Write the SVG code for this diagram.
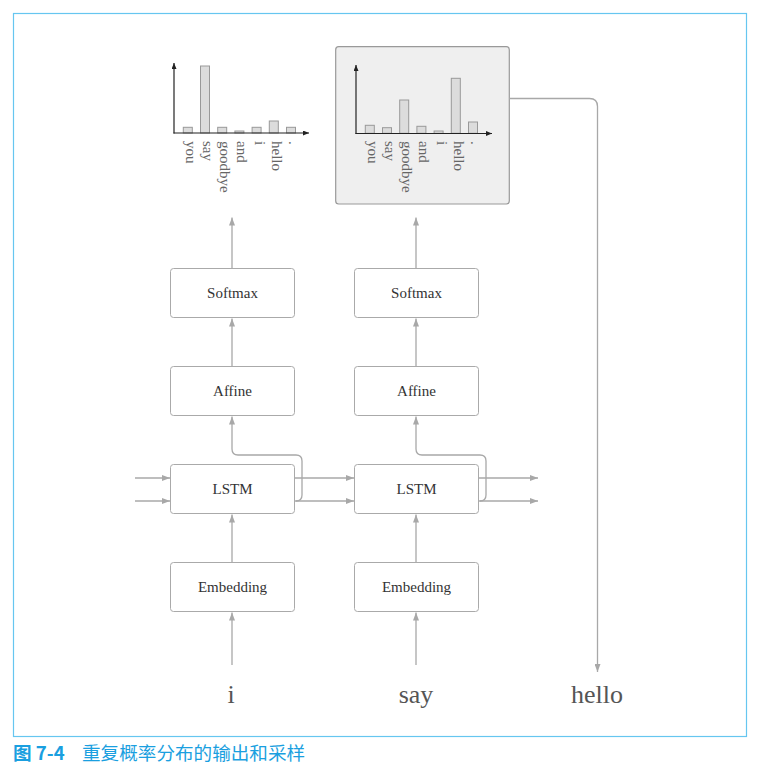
<svg xmlns="http://www.w3.org/2000/svg" width="763" height="774" viewBox="0 0 763 774">
<defs>
<marker id="ga" markerWidth="8" markerHeight="6" refX="8" refY="3" orient="auto" markerUnits="userSpaceOnUse"><path d="M0,0 L8,3 L0,6 z" fill="#a8a8a8"/></marker>
<marker id="ka" markerWidth="6" markerHeight="5" refX="6" refY="2.5" orient="auto" markerUnits="userSpaceOnUse"><path d="M0,0 L6,2.5 L0,5 z" fill="#222"/></marker>
</defs>
<style>
.box{fill:#fff;stroke:#aaa;stroke-width:1}
.lbl{font-family:"Liberation Serif",serif;font-size:15px;fill:#333;text-anchor:middle}
.word{font-family:"Liberation Serif",serif;font-size:26px;fill:#555;text-anchor:middle}
.con{fill:none;stroke:#a8a8a8;stroke-width:1.3;marker-end:url(#ga)}
.axis{fill:none;stroke:#222;stroke-width:1.2;marker-end:url(#ka)}
.bar{fill:#dcdcdc;stroke:#999;stroke-width:1}
.tick{font-family:"Liberation Serif",serif;font-size:15px;fill:#666}
.cap{font-family:"Noto Sans CJK SC",sans-serif;font-size:18.6px;fill:#1a9fe0}
</style>
<rect x="13.5" y="13.5" width="733" height="723" fill="none" stroke="#66c6f0" stroke-width="1.2"/>

<g id="chart1">
<rect class="bar" x="183.3" y="127.3" width="9" height="5.7"/>
<rect class="bar" x="200.5" y="66" width="9" height="67"/>
<rect class="bar" x="217.7" y="127.3" width="9" height="5.7"/>
<rect class="bar" x="234.9" y="131" width="9" height="2"/>
<rect class="bar" x="252.1" y="127.3" width="9" height="5.7"/>
<rect class="bar" x="269.3" y="121" width="9" height="12"/>
<rect class="bar" x="286.5" y="127.3" width="9" height="5.7"/>
<path class="axis" d="M174 133.5 V63"/>
<path class="axis" d="M173.5 133 H309"/>
<text class="tick" transform="translate(185.8,141) rotate(90)">you</text>
<text class="tick" transform="translate(203,141) rotate(90)">say</text>
<text class="tick" transform="translate(220.2,141) rotate(90)">goodbye</text>
<text class="tick" transform="translate(237.4,141) rotate(90)">and</text>
<text class="tick" transform="translate(254.6,141) rotate(90)">i</text>
<text class="tick" transform="translate(271.8,141) rotate(90)">hello</text>
<text class="tick" transform="translate(289,141) rotate(90)">.</text>
</g>

<g id="chart2">
<rect x="335.7" y="46.7" width="173.6" height="157.3" rx="3" fill="#efefef" stroke="#999" stroke-width="1.2"/>
<rect class="bar" x="365.3" y="125.3" width="9" height="8"/>
<rect class="bar" x="382.5" y="127.7" width="9" height="5.6"/>
<rect class="bar" x="399.7" y="100" width="9" height="33.3"/>
<rect class="bar" x="416.9" y="126.3" width="9" height="7"/>
<rect class="bar" x="434.1" y="131" width="9" height="2.3"/>
<rect class="bar" x="451.3" y="78.3" width="9" height="55"/>
<rect class="bar" x="468.5" y="122" width="9" height="11.3"/>
<path class="axis" d="M356 134 V65"/>
<path class="axis" d="M355.5 133.5 H492"/>
<text class="tick" transform="translate(367.8,141) rotate(90)">you</text>
<text class="tick" transform="translate(385,141) rotate(90)">say</text>
<text class="tick" transform="translate(402.2,141) rotate(90)">goodbye</text>
<text class="tick" transform="translate(419.4,141) rotate(90)">and</text>
<text class="tick" transform="translate(436.6,141) rotate(90)">i</text>
<text class="tick" transform="translate(453.8,141) rotate(90)">hello</text>
<text class="tick" transform="translate(471,141) rotate(90)">.</text>
</g>

<g id="connectors">
<path class="con" d="M232 665 V612.5"/>
<path class="con" d="M232 562.5 V514.5"/>
<path class="con" d="M296 501 Q302 501 302 495 V461 Q302 455 296 455 H238 Q232 455 232 449 V416.5"/>
<path class="con" d="M232 366.5 V318.5"/>
<path class="con" d="M232 268.5 V217.5"/>
<path class="con" d="M416 665 V612.5"/>
<path class="con" d="M416 562.5 V514.5"/>
<path class="con" d="M480 501 Q486 501 486 495 V461 Q486 455 480 455 H422 Q416 455 416 449 V416.5"/>
<path class="con" d="M416 366.5 V318.5"/>
<path class="con" d="M416 268.5 V217.5"/>
<path class="con" d="M135 478 H170"/>
<path class="con" d="M135 501 H170"/>
<path class="con" d="M294.5 478 H354"/>
<path class="con" d="M294.5 501 H354"/>
<path class="con" d="M478.5 478 H538"/>
<path class="con" d="M478.5 501 H538"/>
<path class="con" d="M509.3 98.5 H589.5 Q597.5 98.5 597.5 106.5 V672"/>
</g>

<g id="softmax1"><rect class="box" x="170.5" y="268.5" width="124" height="49" rx="3"/><text class="lbl" x="232.5" y="298">Softmax</text></g>
<g id="affine1"><rect class="box" x="170.5" y="366.5" width="124" height="49" rx="3"/><text class="lbl" x="232.5" y="396">Affine</text></g>
<g id="lstm1"><rect class="box" x="170.5" y="464.5" width="124" height="49" rx="3"/><text class="lbl" x="232.5" y="494">LSTM</text></g>
<g id="embedding1"><rect class="box" x="170.5" y="562.5" width="124" height="49" rx="3"/><text class="lbl" x="232.5" y="592">Embedding</text></g>
<g id="softmax2"><rect class="box" x="354.5" y="268.5" width="124" height="49" rx="3"/><text class="lbl" x="416.5" y="298">Softmax</text></g>
<g id="affine2"><rect class="box" x="354.5" y="366.5" width="124" height="49" rx="3"/><text class="lbl" x="416.5" y="396">Affine</text></g>
<g id="lstm2"><rect class="box" x="354.5" y="464.5" width="124" height="49" rx="3"/><text class="lbl" x="416.5" y="494">LSTM</text></g>
<g id="embedding2"><rect class="box" x="354.5" y="562.5" width="124" height="49" rx="3"/><text class="lbl" x="416.5" y="592">Embedding</text></g>

<g id="word-i"><text class="word" x="231" y="703">i</text></g>
<g id="word-say"><text class="word" x="416" y="703">say</text></g>
<g id="word-hello"><text class="word" x="597" y="703">hello</text></g>

<g id="caption"><text class="cap" x="13" y="760"><tspan font-weight="bold">图 7-4</tspan><tspan x="82">重复概率分布的输出和采样</tspan></text></g>
</svg>
